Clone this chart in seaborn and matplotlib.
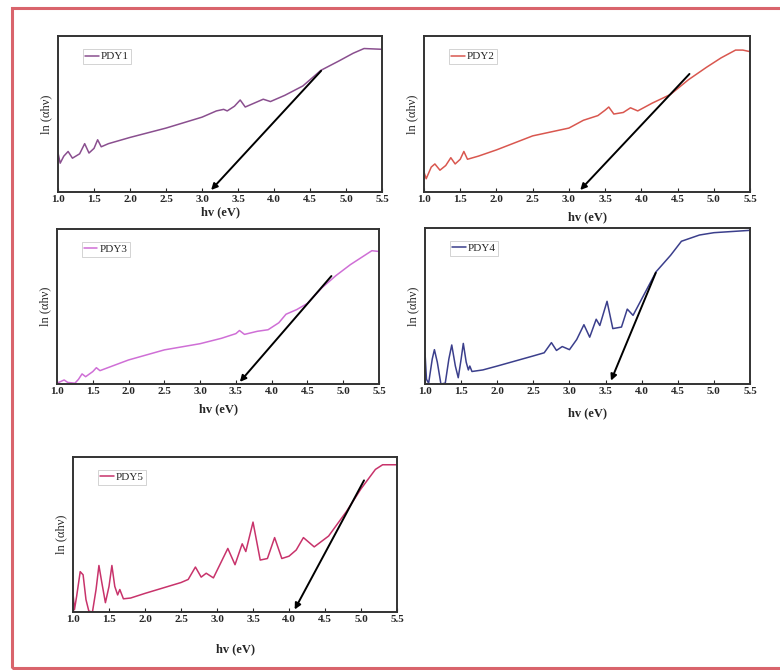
import numpy as np
import pandas as pd
import matplotlib.pyplot as plt
import seaborn as sns
from matplotlib.patches import Rectangle

# photon energy (eV) and normalised ln(alpha h nu)
x1 = [1.00, 1.03, 1.08, 1.14, 1.20, 1.30, 1.37, 1.43, 1.50, 1.55, 1.60, 1.70, 2.00, 2.50, 3.00,
      3.20, 3.30, 3.35, 3.45, 3.53, 3.60, 3.75, 3.85, 3.95, 4.15, 4.40, 4.65, 4.90, 5.10, 5.25, 5.50]
y1 = [0.25, 0.185, 0.23, 0.26, 0.217, 0.245, 0.31, 0.25, 0.28, 0.335, 0.29, 0.31, 0.35, 0.41, 0.48,
      0.52, 0.53, 0.52, 0.55, 0.59, 0.545, 0.575, 0.595, 0.58, 0.62, 0.68, 0.78, 0.84, 0.89, 0.92, 0.915]

x2 = [1.00, 1.03, 1.10, 1.15, 1.22, 1.30, 1.37, 1.43, 1.50, 1.55, 1.60, 1.75, 2.00, 2.50, 3.00,
      3.20, 3.40, 3.50, 3.55, 3.62, 3.75, 3.85, 3.95, 4.15, 4.40, 4.65, 4.90, 5.10, 5.30, 5.40, 5.50]
y2 = [0.127, 0.085, 0.16, 0.18, 0.14, 0.17, 0.22, 0.18, 0.21, 0.26, 0.21, 0.23, 0.27, 0.36, 0.41,
      0.46, 0.49, 0.525, 0.545, 0.50, 0.51, 0.54, 0.52, 0.57, 0.625, 0.72, 0.80, 0.86, 0.91, 0.91, 0.90]

x3 = [1.00, 1.10, 1.15, 1.25, 1.30, 1.35, 1.40, 1.50, 1.55, 1.60, 2.00, 2.50, 3.00, 3.30, 3.50,
      3.55, 3.62, 3.80, 3.95, 4.10, 4.20, 4.35, 4.50, 4.70, 4.90, 5.10, 5.30, 5.40, 5.50]
y3 = [0.005, 0.026, 0.01, 0.005, 0.03, 0.065, 0.047, 0.08, 0.105, 0.086, 0.155, 0.22, 0.26, 0.295, 0.325,
      0.345, 0.32, 0.34, 0.35, 0.395, 0.45, 0.48, 0.52, 0.62, 0.70, 0.77, 0.83, 0.86, 0.855]

x4 = [1.00, 1.02, 1.05, 1.10, 1.13, 1.17, 1.22, 1.28, 1.33, 1.37, 1.42, 1.46, 1.50, 1.53, 1.57,
      1.60, 1.62, 1.65, 1.80, 2.00, 2.50, 2.65, 2.75, 2.82, 2.90, 3.00, 3.10, 3.20, 3.28, 3.37,
      3.42, 3.52, 3.60, 3.72, 3.80, 3.88, 4.00, 4.20, 4.40, 4.55, 4.80, 5.00, 5.50]
y4 = [0.20, 0.03, 0.005, 0.16, 0.22, 0.14, 0.0, 0.005, 0.16, 0.25, 0.115, 0.04, 0.16, 0.26, 0.14,
      0.09, 0.115, 0.08, 0.09, 0.115, 0.18, 0.20, 0.265, 0.215, 0.24, 0.22, 0.285, 0.38, 0.30, 0.415,
      0.375, 0.53, 0.355, 0.365, 0.48, 0.44, 0.545, 0.72, 0.825, 0.915, 0.955, 0.97, 0.985]

x5 = [1.00, 1.02, 1.05, 1.10, 1.14, 1.18, 1.22, 1.27, 1.32, 1.36, 1.40, 1.45, 1.50, 1.54, 1.58,
      1.62, 1.65, 1.70, 1.80, 2.00, 2.50, 2.60, 2.70, 2.78, 2.85, 2.95, 3.05, 3.15, 3.25, 3.35,
      3.40, 3.50, 3.60, 3.70, 3.80, 3.90, 4.00, 4.10, 4.20, 4.35, 4.55, 4.80, 5.00, 5.20, 5.30, 5.50]
y5 = [0.12, 0.015, 0.10, 0.26, 0.24, 0.08, 0.005, 0.0, 0.145, 0.30, 0.19, 0.06, 0.165, 0.30, 0.165,
      0.11, 0.145, 0.085, 0.09, 0.12, 0.19, 0.21, 0.29, 0.225, 0.25, 0.22, 0.315, 0.41, 0.305, 0.44,
      0.39, 0.58, 0.335, 0.345, 0.48, 0.345, 0.36, 0.40, 0.48, 0.42, 0.49, 0.65, 0.795, 0.92, 0.95, 0.95]

names = ["PDY1", "PDY2", "PDY3", "PDY4", "PDY5"]
colors = ["#8a4f8f", "#d9574f", "#cf6fd6", "#3b3f8c", "#c8336b"]

# tangent (band-gap) arrows: start (x, y) -> intercept (x, y)
arrow_start = [(4.68, 0.79), (4.69, 0.77), (4.86, 0.71), (4.21, 0.73), (5.06, 0.865)]
arrow_end = [(3.10, 0.0), (3.13, 0.0), (3.53, 0.0), (3.56, 0.005), (4.06, 0.0)]

xticks = [1.0, 1.5, 2.0, 2.5, 3.0, 3.5, 4.0, 4.5, 5.0, 5.5]

sns.set_style("ticks")
plt.rcParams['font.family'] = ['Liberation Serif', 'DejaVu Serif']

fig = plt.figure(figsize=(7.8, 6.7), dpi=100)
fig.patches.append(Rectangle((12 / 780, 2 / 670), 0.99, 0.985, transform=fig.transFigure,
                             fill=False, edgecolor="#d9646c", linewidth=2.2))

# axes boxes in figure fractions [left, bottom, width, height]
boxes = [[0.0744, 0.7134, 0.4154, 0.2328],
         [0.5436, 0.7134, 0.418, 0.2328],
         [0.0731, 0.4269, 0.4128, 0.2313],
         [0.5449, 0.4269, 0.4167, 0.2328],
         [0.0936, 0.0866, 0.4154, 0.2313]]
xpads = [1.5, 5.5, 5.5, 8, 14]

xs = [x1, x2, x3, x4, x5]
ys = [y1, y2, y3, y4, y5]

for i in range(5):
    ax = fig.add_axes(boxes[i])
    df = pd.DataFrame({"hv": xs[i], "ln": ys[i]})
    sns.lineplot(data=df, x="hv", y="ln", ax=ax, color=colors[i], linewidth=1.1,
                 label=names[i], solid_joinstyle="round")
    ax.annotate("", xy=arrow_end[i], xytext=arrow_start[i],
                arrowprops=dict(arrowstyle="-|>", color="black", lw=1.4, mutation_scale=9))
    ax.set_xlim(1.0, 5.5)
    ax.set_ylim(0, 1.0)
    ax.set_xticks(xticks)
    ax.set_xticklabels(["%.1f" % t for t in xticks], fontsize=8, fontweight="bold")
    ax.set_yticks([])
    ax.tick_params(axis="x", direction="in", length=3, pad=2)
    ax.set_xlabel("hv (eV)", fontsize=9, fontweight="bold", labelpad=xpads[i])
    ax.set_ylabel("ln (αhν)", fontsize=9, labelpad=4)
    for s in ax.spines.values():
        s.set_linewidth(1.4)
        s.set_color("#333333")
    leg = ax.legend(loc="upper left", bbox_to_anchor=(0.06, 0.95), fontsize=8, handlelength=1.2,
                    handletextpad=0.2, borderpad=0.2, fancybox=False, framealpha=1)
    leg.get_frame().set_edgecolor("#cccccc")
    leg.get_frame().set_linewidth(0.6)

fig.savefig("out.png", dpi=100)
